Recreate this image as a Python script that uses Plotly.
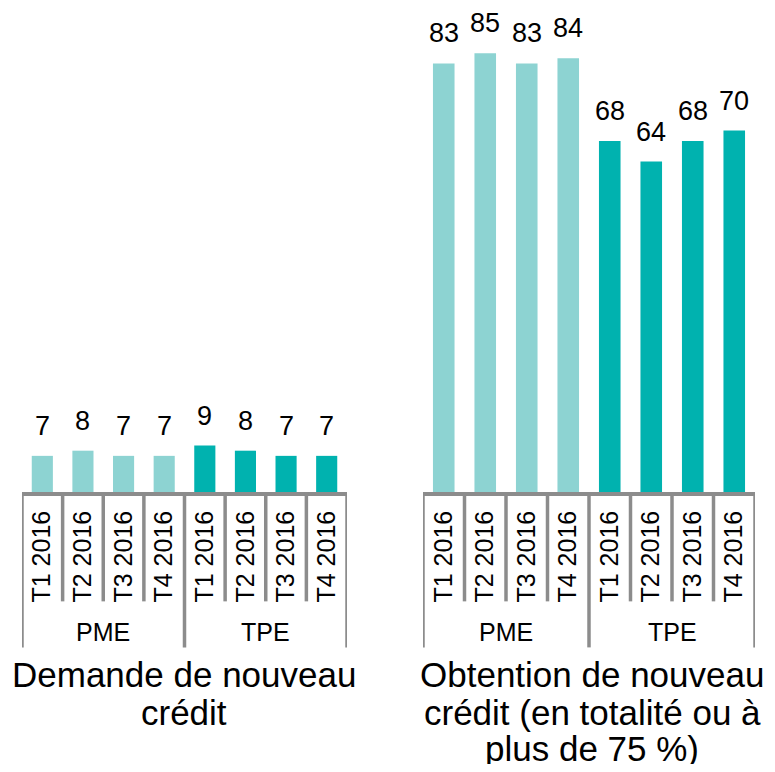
import plotly.graph_objects as go

quarters = ["T1 2016", "T2 2016", "T3 2016", "T4 2016", "T1 2016", "T2 2016", "T3 2016", "T4 2016"]
groups = ["PME", "PME", "PME", "PME", "TPE", "TPE", "TPE", "TPE"]
demande = [7, 8, 7, 7, 9, 8, 7, 7]
obtention = [83, 85, 83, 84, 68, 64, 68, 70]
titles = [["Demande de nouveau", "crédit"],
          ["Obtention de nouveau", "crédit (en totalité ou à", "plus de 75 %)"]]

group_colors = {"PME": "#8DD3D2", "TPE": "#00B2AF"}
AXIS_GRAY = "#8C8C8C"
FONT = "Liberation Sans, Arial, sans-serif"

# page has an 8px body margin, so the figure is 16px smaller than the window
OFF = 8
W, H = 775 - 2 * OFF, 772 - 2 * OFF
AXIS_Y = 491.7 - OFF
ML, MR, MT = 22 - OFF, W - (755 - OFF), 0
MB = H - AXIS_Y
plot_h = AXIS_Y - MT
px_per_unit = 5.16
ymax = plot_h / px_per_unit

fig = go.Figure()
xs = list(range(len(quarters)))
colors = [group_colors[g] for g in groups]

panels = [(demande, "x", "y"), (obtention, "x2", "y2")]
for vals, xa, ya in panels:
    fig.add_trace(go.Bar(x=xs, y=vals, width=0.52, marker=dict(color=colors, line=dict(width=0)),
                         xaxis=xa, yaxis=ya, showlegend=False, hoverinfo="skip"))

annotations = []
shapes = []

def ppx(p):  # page pixel y (from top of window) -> paper y
    p = p - OFF
    return (plot_h - (p - MT)) / plot_h

title_rows = [674, 712, 748]
title_xshift = [-1, 3]

for pi, (vals, xa, ya) in enumerate(panels):
    for i, v in enumerate(vals):
        annotations.append(dict(x=xs[i], y=v, xref=xa, yref=ya, text=str(v), showarrow=False,
                                yanchor="bottom", yshift=13, font=dict(size=27, color="black", family=FONT)))
    for k in range(len(xs) + 1):
        is_group_edge = k == 0 or k == len(xs) or groups[k] != groups[k - 1]
        y1 = ppx(647) if is_group_edge else ppx(601)
        shapes.append(dict(type="line", xref=xa, yref="paper", x0=k - 0.5, x1=k - 0.5, y0=0, y1=y1,
                           line=dict(color=AXIS_GRAY, width=3.5), layer="above"))
    seen = []
    for g in groups:
        if g not in seen:
            seen.append(g)
    for g in seen:
        idx = [i for i, gg in enumerate(groups) if gg == g]
        annotations.append(dict(x=sum(idx) / len(idx), y=ppx(632), xref=xa, yref="paper", text=g,
                                showarrow=False, yanchor="middle",
                                font=dict(size=25, color="black", family=FONT)))
    dom = xa + " domain"
    for li, line in enumerate(titles[pi]):
        annotations.append(dict(x=0.5, y=ppx(title_rows[li]), xref=dom, yref="paper", text=line,
                                showarrow=False, yanchor="middle", xshift=title_xshift[pi], borderpad=0,
                                font=dict(size=35, color="black", family=FONT)))

plot_w = W - ML - MR
left_dom = [0, (347 - 22) / plot_w]
right_dom = [(423 - 22) / plot_w, 1]

axis_common = dict(tickmode="array", tickvals=xs, ticktext=quarters, tickangle=-90,
                   range=[-0.5, len(xs) - 0.5], showline=True, linecolor=AXIS_GRAY, linewidth=3.5,
                   showgrid=False, zeroline=False, ticks="", ticklabelstandoff=5, automargin=False,
                   tickfont=dict(size=25, color="black", family=FONT), fixedrange=True)
yaxis_common = dict(range=[0, ymax], visible=False, showgrid=False, zeroline=False, fixedrange=True)

fig.update_layout(
    width=W, height=H,
    margin=dict(l=ML, r=MR, t=MT, b=MB, pad=0),
    paper_bgcolor="white", plot_bgcolor="white",
    xaxis=dict(domain=left_dom, anchor="y", **axis_common),
    xaxis2=dict(domain=right_dom, anchor="y2", **axis_common),
    yaxis=dict(domain=[0, 1], anchor="x", **yaxis_common),
    yaxis2=dict(domain=[0, 1], anchor="x2", **yaxis_common),
    annotations=annotations,
    shapes=shapes,
    font=dict(family=FONT, color="black"),
    bargap=0.48,
)

fig.write_html("out.html")
